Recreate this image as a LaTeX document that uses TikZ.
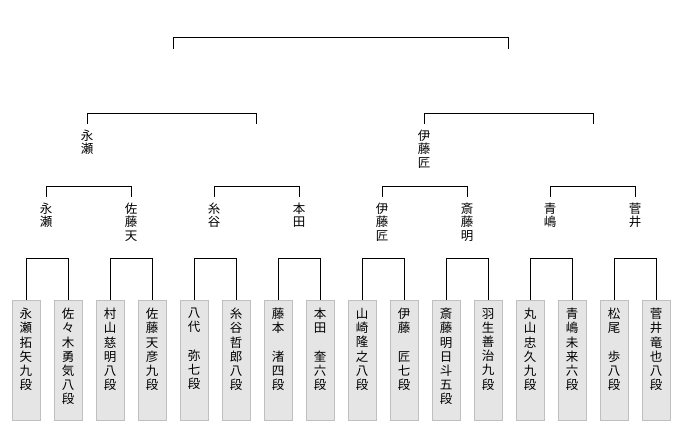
\documentclass[tikz,border=0pt]{standalone}
\usepackage{fontspec}
\setmainfont{Noto Sans CJK JP}
\begin{document}
\begin{tikzpicture}[x=1pt,y=1pt,
  box/.style={draw=black!25,fill=black!10,minimum width=28pt,minimum height=120pt,anchor=north,inner sep=0pt},
  vtxt/.style={anchor=north,align=center,inner sep=0pt,font=\fontsize{12.5}{14.2}\selectfont},
  lbl/.style={anchor=north,align=center,inner sep=0pt,font=\fontsize{12.5}{13.2}\selectfont,yshift=-6pt},
  ln/.style={line width=0.9pt}]
\useasboundingbox (0,0) rectangle (680,-430);
% boxes
\foreach \i in {0,...,15}{
  \node[box] (b\i) at ({26+42*\i},-300) {};
}
\node[vtxt] at (26,-308) {永\\瀬\\拓\\矢\\九\\段};
\node[vtxt] at (68,-308) {佐\\々\\木\\勇\\気\\八\\段};
\node[vtxt] at (110,-308) {村\\山\\慈\\明\\八\\段};
\node[vtxt] at (152,-308) {佐\\藤\\天\\彦\\九\\段};
\node[vtxt] at (194,-308) {八\\代\\　\\弥\\七\\段};
\node[vtxt] at (236,-308) {糸\\谷\\哲\\郎\\八\\段};
\node[vtxt] at (278,-308) {藤\\本\\　\\渚\\四\\段};
\node[vtxt] at (320,-308) {本\\田\\　\\奎\\六\\段};
\node[vtxt] at (362,-308) {山\\崎\\隆\\之\\八\\段};
\node[vtxt] at (404,-308) {伊\\藤\\　\\匠\\七\\段};
\node[vtxt] at (446,-308) {斎\\藤\\明\\日\\斗\\五\\段};
\node[vtxt] at (488,-308) {羽\\生\\善\\治\\九\\段};
\node[vtxt] at (530,-308) {丸\\山\\忠\\久\\九\\段};
\node[vtxt] at (572,-308) {青\\嶋\\未\\来\\六\\段};
\node[vtxt] at (614,-308) {松\\尾\\　\\歩\\八\\段};
\node[vtxt] at (656,-308) {菅\\井\\竜\\也\\八\\段};
% level 1 connectors
\foreach \a/\b in {0/1,2/3,4/5,6/7,8/9,10/11,12/13,14/15}{
  \draw[ln] (b\a.north) -- ++(0,42) -| (b\b.north);
}
% level 2 labels
\node[lbl] (m0) at (46,-197) {永\\瀬};
\node[lbl] (m1) at (131,-197) {佐\\藤\\天};
\node[lbl] (m2) at (214,-197) {糸\\谷};
\node[lbl] (m3) at (299,-197) {本\\田};
\node[lbl] (m4) at (382,-197) {伊\\藤\\匠};
\node[lbl] (m5) at (467,-197) {斎\\藤\\明};
\node[lbl] (m6) at (550,-197) {青\\嶋};
\node[lbl] (m7) at (635,-197) {菅\\井};
\foreach \a/\b in {0/1,2/3,4/5,6/7}{
  \draw[ln] ([yshift=6pt]m\a.north) -- ++(0,11) -| ([yshift=6pt]m\b.north);
}
% level 3
\node[lbl] (q0) at (87,-124) {永\\瀬};
\coordinate (q1) at (256,-124);
\node[lbl] (q2) at (424,-124) {伊\\藤\\匠};
\coordinate (q3) at (593,-124);
\draw[ln] ([yshift=6pt]q0.north) -- ++(0,11) -| (q1);
\draw[ln] ([yshift=6pt]q2.north) -- ++(0,11) -| (q3);
% top
\coordinate (t0) at (173,-49);
\coordinate (t1) at (508,-49);
\draw[ln] (t0) -- ++(0,12) -| (t1);
\end{tikzpicture}
\end{document}
